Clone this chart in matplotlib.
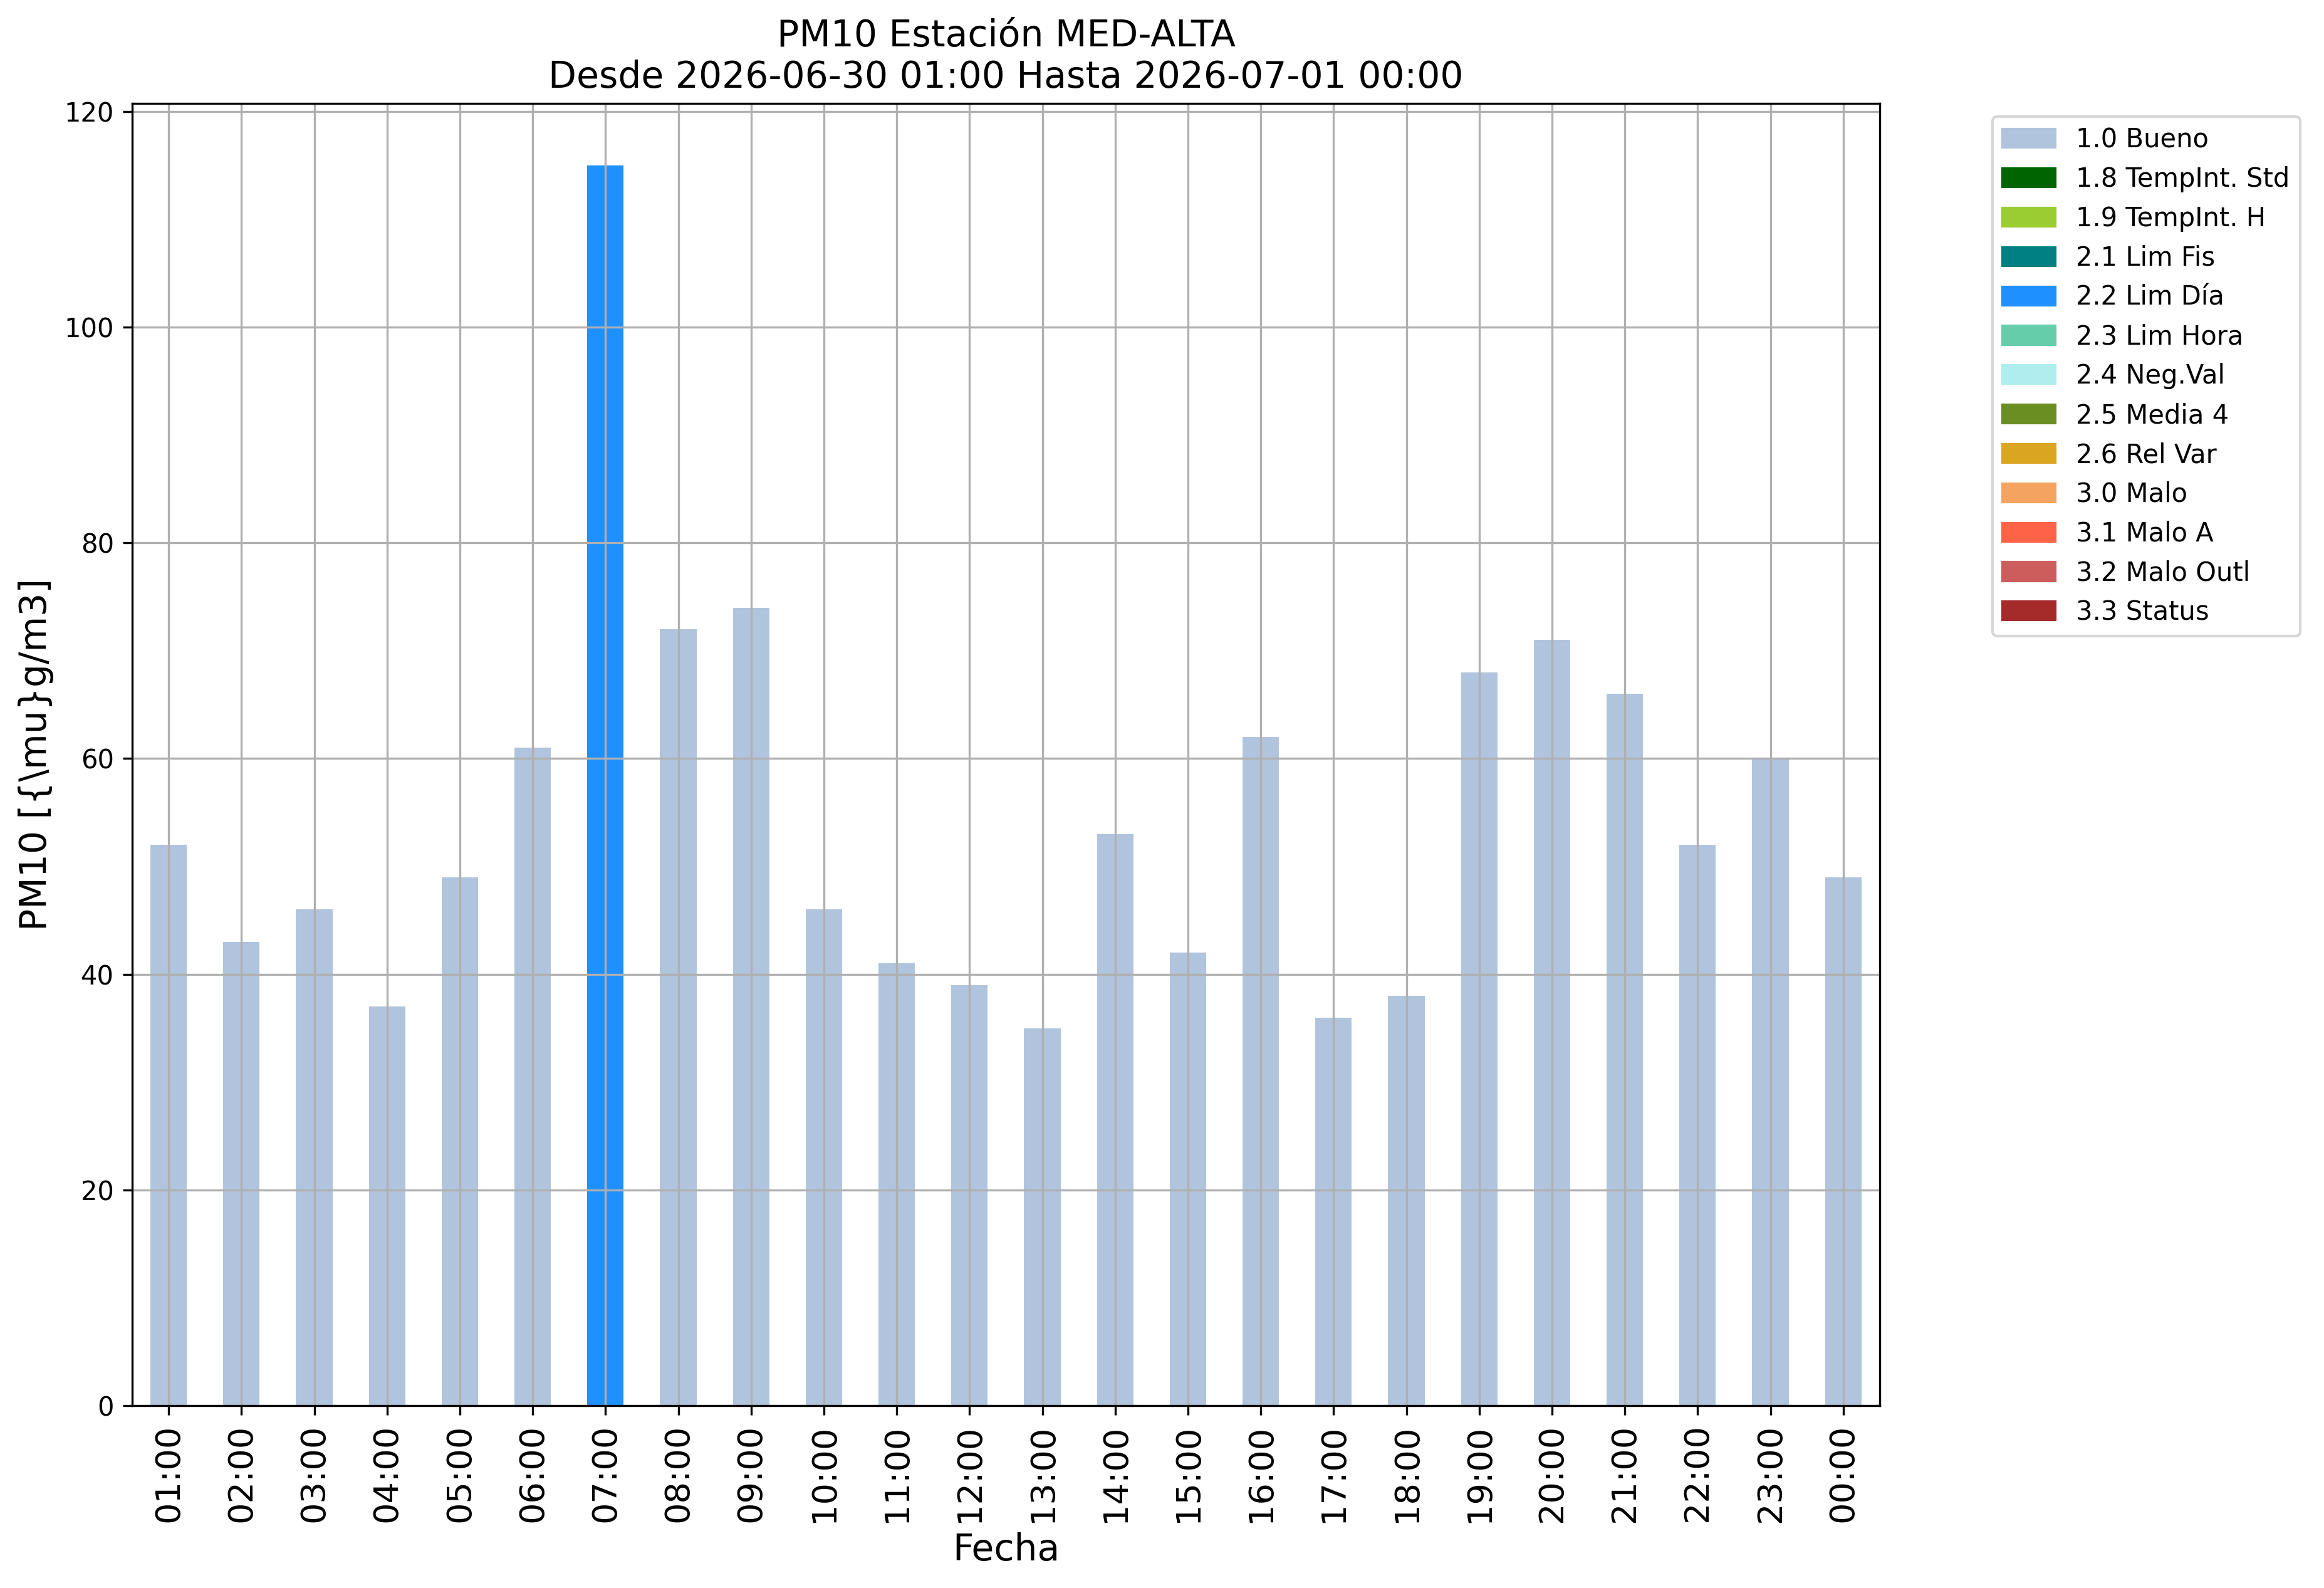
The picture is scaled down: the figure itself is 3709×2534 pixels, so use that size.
import matplotlib
matplotlib.use("Agg")
import matplotlib.pyplot as plt
from matplotlib.patches import Patch

horas = ["01:00", "02:00", "03:00", "04:00", "05:00", "06:00", "07:00", "08:00",
         "09:00", "10:00", "11:00", "12:00", "13:00", "14:00", "15:00", "16:00",
         "17:00", "18:00", "19:00", "20:00", "21:00", "22:00", "23:00", "00:00"]
pm10 = [52, 43, 46, 37, 49, 61, 115, 72, 74, 46, 41, 39, 35, 53, 42, 62,
        36, 38, 68, 71, 66, 52, 60, 49]
flags = ["1.0 Bueno"] * 24
flags[6] = "2.2 Lim Día"

categorias = ["1.0 Bueno", "1.8 TempInt. Std", "1.9 TempInt. H", "2.1 Lim Fis",
              "2.2 Lim Día", "2.3 Lim Hora", "2.4 Neg.Val", "2.5 Media 4",
              "2.6 Rel Var", "3.0 Malo", "3.1 Malo A", "3.2 Malo Outl", "3.3 Status"]
colores = ["lightsteelblue", "darkgreen", "yellowgreen", "teal", "dodgerblue",
           "mediumaquamarine", "paleturquoise", "olivedrab", "goldenrod",
           "sandybrown", "tomato", "indianred", "brown"]
color_de = dict(zip(categorias, colores))

fig = plt.figure(figsize=(3709 / 300, 2534 / 300), dpi=300)
ax = fig.add_axes([0.0569, 0.1148, 0.7519, 0.8201])

x = list(range(len(horas)))
ax.bar(x, pm10, width=0.5, color=[color_de[f] for f in flags])
ax.set_xlim(-0.5, len(horas) - 0.5)
ax.set_xticks(x)
ax.set_xticklabels(horas, rotation=90, fontsize=13)
ax.tick_params(axis="y", labelsize=10)
ax.grid(True)

ax.set_title("PM10 Estación MED-ALTA\nDesde 2026-06-30 01:00 Hasta 2026-07-01 00:00",
             fontsize=14)
ax.set_xlabel("Fecha", fontsize=14)
ax.set_ylabel("PM10 [{\\mu}g/m3]", fontsize=14)

handles = [Patch(color=c, label=l) for l, c in zip(categorias, colores)]
ax.legend(handles=handles, bbox_to_anchor=(1.057, 1), loc="upper left", fontsize=10)

fig.savefig("out.png", dpi=300)
plt.close(fig)
